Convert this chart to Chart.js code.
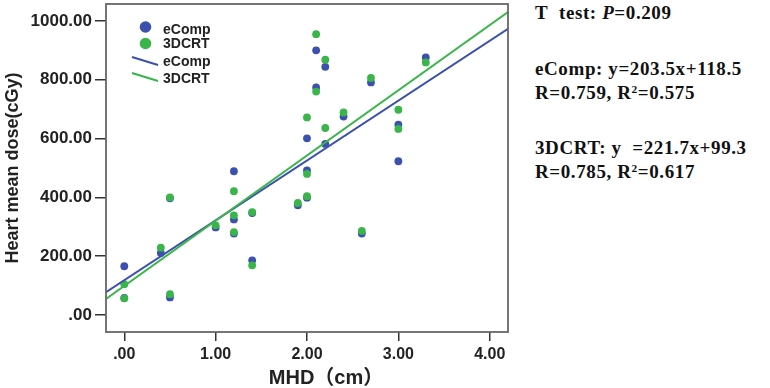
<!DOCTYPE html>
<html>
<head>
<meta charset="utf-8">
<script src="https://cdn.jsdelivr.net/npm/chart.js@4.4.1/dist/chart.umd.min.js"></script>
<style>
  html, body { margin: 0; padding: 0; background: #fff; }
  body { width: 770px; height: 388px; position: relative; overflow: hidden; }
  #wrap { position: absolute; left: 0; top: 0; width: 520px; height: 388px; }
  .note {
    position: absolute; left: 535px; white-space: nowrap;
    font-family: "Liberation Serif", "Times New Roman", serif;
    font-weight: bold; font-size: 19px; line-height: 19px;
    letter-spacing: 0.6px; color: #111;
  }
  .note sup { font-size: 0.6em; vertical-align: 0.55em; line-height: 0; }
</style>
</head>
<body>
<div id="wrap"><canvas id="scatterChart"></canvas></div>

<div class="note" style="top:3px">T&nbsp; test: <i>P</i>=0.209</div>
<div class="note" style="top:59px">eComp: y=203.5x+118.5</div>
<div class="note" style="top:83px">R=0.759, R<sup>2</sup>=0.575</div>
<div class="note" style="top:138px">3DCRT: y &nbsp;=221.7x+99.3</div>
<div class="note" style="top:162px">R=0.785, R<sup>2</sup>=0.617</div>

<script>
// ── DATA ──
const mhd    = [0.0, 0.0, 0.4, 0.5, 0.5, 1.0, 1.2, 1.2, 1.2, 1.4, 1.4, 1.9, 2.0, 2.0, 2.0, 2.1, 2.1, 2.2, 2.2, 2.4, 2.6, 2.7, 3.0, 3.0, 3.3];
const eComp  = [166, 58, 211, 397, 60, 298, 489, 325, 277, 347, 186, 373, 601, 492, 399, 900, 774, 844, 582, 675, 277, 791, 647, 523, 876];
const crt3d  = [105, 57, 229, 400, 71, 305, 421, 339, 282, 350, 169, 381, 672, 480, 404, 955, 760, 868, 636, 689, 286, 806, 698, 633, 859];

// fit lines, from the equations printed beside the chart
const fitX       = [-0.2, 4.2];
const eCompFit   = { slope: 203.5, icpt: 118.5 };
const crtFit     = { slope: 221.7, icpt: 99.3 };

const xTicks      = [0, 1, 2, 3, 4];
const xTickLabels = ['.00', '1.00', '2.00', '3.00', '4.00'];
const yTicks      = [0, 200, 400, 600, 800, 1000];
const yTickLabels = ['.00', '200.00', '400.00', '600.00', '800.00', '1000.00'];

const BLUE  = '#3c51ad';
const GREEN = '#3ab54a';
const INK   = '#222';

const toPts = (xs, ys) => xs.map((x, i) => ({ x: x, y: ys[i] }));
const fitPts = f => fitX.map(x => ({ x: x, y: f.slope * x + f.icpt }));

// ── BOX, LEGEND AND X TITLE ──
const decorPlugin = {
    id: 'decor',
    afterDraw(chart) {
        const { ctx, chartArea: a } = chart;
        ctx.save();
        ctx.strokeStyle = '#666';
        ctx.lineWidth = 1.8;
        ctx.strokeRect(a.left, a.top, a.right - a.left, a.bottom - a.top);

        // legend inside the plot
        ctx.fillStyle = BLUE;
        ctx.beginPath(); ctx.arc(145.5, 27, 5.8, 0, Math.PI * 2); ctx.fill();
        ctx.fillStyle = GREEN;
        ctx.beginPath(); ctx.arc(145.5, 43.5, 5.8, 0, Math.PI * 2); ctx.fill();

        ctx.lineWidth = 2.2;
        ctx.strokeStyle = BLUE;
        ctx.beginPath(); ctx.moveTo(132, 57); ctx.lineTo(158, 65); ctx.stroke();
        ctx.strokeStyle = GREEN;
        ctx.beginPath(); ctx.moveTo(132, 73); ctx.lineTo(158, 81); ctx.stroke();

        ctx.fillStyle = INK;
        ctx.font = 'bold 14px "Liberation Sans", Arial, sans-serif';
        ctx.textBaseline = 'middle';
        ctx.textAlign = 'left';
        ctx.fillText('eComp', 163, 30);
        ctx.fillText('3DCRT', 163, 44.5);
        ctx.fillText('eComp', 163, 62);
        ctx.fillText('3DCRT', 163, 79);

        // x axis title
        ctx.font = 'bold 20px "Liberation Sans", Arial, "Noto Sans CJK SC", sans-serif';
        ctx.textAlign = 'center';
        ctx.fillText('MHD（cm）', 326, 378);
        ctx.restore();
    }
};

const ctx = document.getElementById('scatterChart');
new Chart(ctx, {
    type: 'scatter',
    data: {
        datasets: [
            {
                label: 'eComp',
                data: toPts(mhd, eComp),
                backgroundColor: BLUE,
                borderWidth: 0,
                pointRadius: 3.9,
                order: 3
            },
            {
                label: '3DCRT',
                data: toPts(mhd, crt3d),
                backgroundColor: GREEN,
                borderWidth: 0,
                pointRadius: 3.9,
                order: 2
            },
            {
                label: 'eComp fit',
                type: 'line',
                data: fitPts(eCompFit),
                borderColor: BLUE,
                borderWidth: 2,
                pointRadius: 0,
                fill: false,
                order: 1
            },
            {
                label: '3DCRT fit',
                type: 'line',
                data: fitPts(crtFit),
                borderColor: GREEN,
                borderWidth: 2,
                pointRadius: 0,
                fill: false,
                order: 0
            }
        ]
    },
    options: {
        responsive: true,
        maintainAspectRatio: false,
        animation: false,
        layout: { padding: { top: 3, right: 12, left: 0, bottom: 0 } },
        plugins: {
            legend: { display: false },
            tooltip: { enabled: false }
        },
        scales: {
            x: {
                type: 'linear',
                min: -0.2,
                max: 4.2,
                afterBuildTicks: axis => { axis.ticks = xTicks.map(v => ({ value: v })); },
                afterFit: axis => { axis.height = 56; axis.paddingLeft = 0; axis.paddingRight = 0; },
                grid: { drawOnChartArea: false, drawTicks: true, tickLength: 9, color: '#333', lineWidth: 1.5 },
                border: { display: false },
                ticks: {
                    padding: 4,
                    color: INK,
                    maxRotation: 0,
                    font: { family: "'Liberation Sans', Arial, sans-serif", size: 16, weight: 'bold' },
                    callback: v => xTickLabels[xTicks.indexOf(v)]
                }
            },
            y: {
                type: 'linear',
                min: -57.6,
                max: 1057.6,
                afterBuildTicks: axis => { axis.ticks = yTicks.map(v => ({ value: v })); },
                afterFit: axis => { axis.width = 106; axis.paddingTop = 0; axis.paddingBottom = 0; },
                grid: { drawOnChartArea: false, drawTicks: true, tickLength: 11, color: '#333', lineWidth: 1.5 },
                border: { display: false },
                ticks: {
                    padding: 3,
                    color: INK,
                    font: { family: "'Liberation Sans', Arial, sans-serif", size: 17, weight: 'bold' },
                    callback: v => yTickLabels[yTicks.indexOf(v)]
                },
                title: {
                    display: true,
                    text: 'Heart mean dose(cGy)',
                    color: INK,
                    padding: { top: 2, bottom: 0 },
                    font: { family: "'Liberation Sans', Arial, sans-serif", size: 18, weight: 'bold' }
                }
            }
        }
    },
    plugins: [decorPlugin]
});
</script>
</body>
</html>
